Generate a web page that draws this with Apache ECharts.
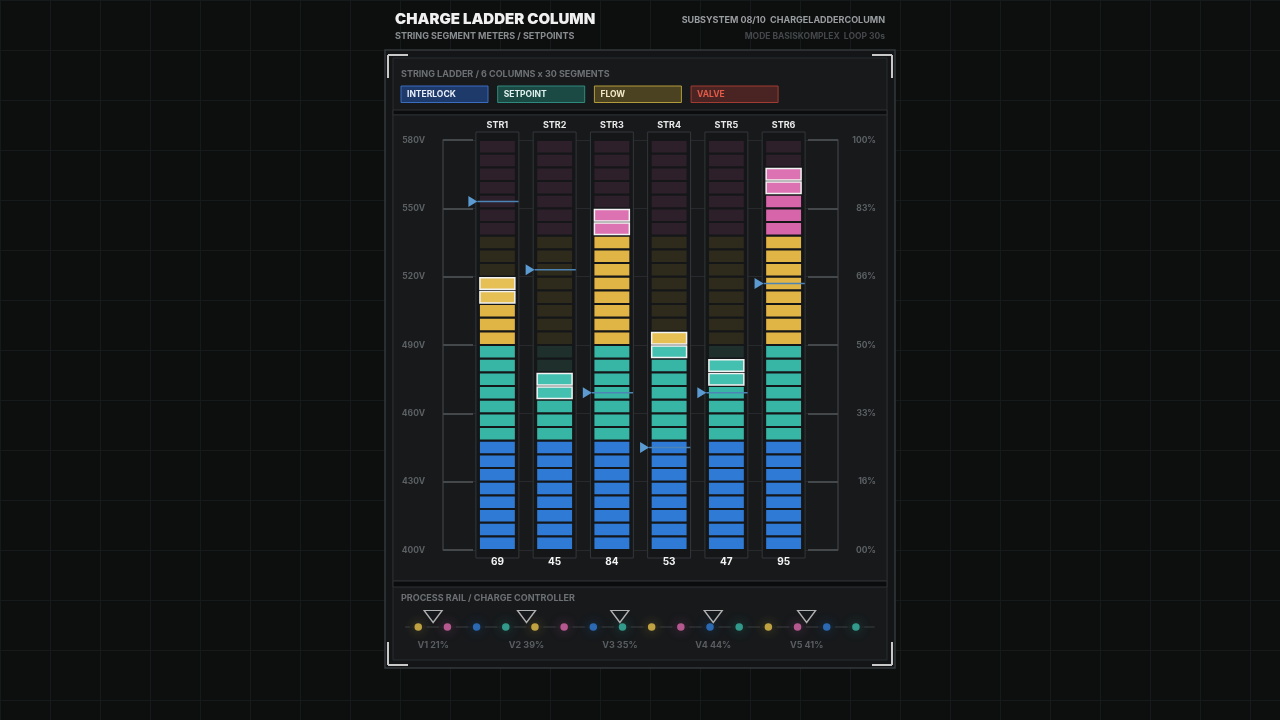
<!DOCTYPE html>
<html>
<head>
<meta charset="utf-8">
<title>Charge Ladder Column</title>
<script src="https://cdn.jsdelivr.net/npm/echarts@6/dist/echarts.min.js"></script>
<style>
    html, body { margin: 0; padding: 0; }
    body {
        background-color: #0d0f0f;
        background-image:
            linear-gradient(to right, #171a1a 1px, transparent 1px),
            linear-gradient(to bottom, #171a1a 1px, transparent 1px);
        background-size: 50px 50px;
    }
    #chart { width: 1280px; height: 720px; }
</style>
</head>
<body>
<div id="chart"></div>
<script>
// 数据
const strings = ['STR1', 'STR2', 'STR3', 'STR4', 'STR5', 'STR6']
const values = [69, 45, 84, 53, 47, 95]
const litSegments = [20, 13, 25, 16, 14, 28] // 点亮的段数
const setpoints = [553, 523, 469, 445, 469, 517] // 设定点 (V)
const voltTicks = [400, 430, 460, 490, 520, 550, 580]
const zoneNames = ['INTERLOCK', 'SETPOINT', 'FLOW', 'VALVE']
const zoneSizes = [8, 7, 8, 7] // 每个区的段数, 自下而上

// 过程轨
const railKinds = ['Y', 'P', 'B', 'T', 'Y', 'P', 'B', 'T', 'Y', 'P', 'B', 'T', 'Y', 'P', 'B', 'T']
const valveNames = ['V1', 'V2', 'V3', 'V4', 'V5']
const valvePos = [0.51, 3.71, 6.91, 10.11, 13.31]
const valvePct = [21, 39, 35, 44, 41]

const FONT = 'Inter, "Noto Sans", sans-serif'
const VMIN = voltTicks[0]
const VMAX = voltTicks[voltTicks.length - 1]
const SEGMENTS = zoneSizes.reduce((a, b) => a + b, 0)

const litColors = ['#2f7ad4', '#38b6a5', '#e0b445', '#d765aa']
const headColors = ['#3d87de', '#44c0b0', '#e6bf55', '#dd72b2']
const dimColors = ['#1b2534', '#1e2f2c', '#2e2a1c', '#2d202b']
const railColors = { Y: '#e6c04a', P: '#d966aa', B: '#2f7ad4', T: '#38b6a5' }

function zoneOf(k) {
    let acc = 0
    for (let z = 0; z < zoneSizes.length; z++) {
        acc += zoneSizes[z]
        if (k < acc) return z
    }
    return zoneSizes.length - 1
}

/**
 * 画一个梯形柱: 外框 + 30 段 + 顶部名称 + 底部数值
 */
function renderColumn(params, api) {
    const i = api.value(0)
    const lit = api.value(2)
    const [cx, yBot] = api.coord([i, VMIN])
    const yTop = api.coord([i, VMAX])[1]
    const unit = api.size([1, 0])[0]
    const segH = (yBot - yTop) / SEGMENTS
    const frameW = unit * 0.75
    const segW = unit * 0.61

    const children = [{
        type: 'rect',
        shape: { x: cx - frameW / 2, y: yTop - 8, width: frameW, height: yBot - yTop + 16 },
        style: { fill: '#141618', stroke: '#34373a', lineWidth: 1 },
    }]

    for (let k = 0; k < SEGMENTS; k++) {
        const z = zoneOf(k)
        const on = k < lit
        const head = on && k >= lit - 2
        children.push({
            type: 'rect',
            shape: { x: cx - segW / 2, y: yBot - (k + 1) * segH + 1.1, width: segW, height: segH - 2.2 },
            style: {
                fill: on ? (head ? headColors[z] : litColors[z]) : dimColors[z],
                stroke: head ? '#f2f2f2' : null,
                lineWidth: head ? 1.5 : 0,
            },
        })
    }

    children.push({
        type: 'text',
        style: {
            text: strings[params.dataIndex], x: cx, y: yTop - 15,
            fill: '#e8e8e8', font: `700 9px ${FONT}`, align: 'center', verticalAlign: 'middle',
        },
    })
    children.push({
        type: 'text',
        style: {
            text: String(api.value(1)), x: cx, y: yBot + 12,
            fill: '#f4f4f4', font: `700 10px ${FONT}`, align: 'center', verticalAlign: 'middle',
        },
    })
    return { type: 'group', children }
}

/**
 * 设定点标记: 三角 + 横线
 */
function renderSetpoint(params, api) {
    const [cx, y] = api.coord([api.value(0), api.value(1)])
    const unit = api.size([1, 0])[0]
    const tip = cx - unit * 0.35
    return {
        type: 'group',
        children: [
            {
                type: 'line',
                shape: { x1: tip, y1: y, x2: cx + unit * 0.37, y2: y },
                style: { stroke: '#4d84b6', lineWidth: 1.5 },
            },
            {
                type: 'polygon',
                shape: { points: [[tip - 9, y - 5.5], [tip, y], [tip - 9, y + 5.5]] },
                style: { fill: '#5b9bd2' },
            },
        ],
    }
}

// 面板装饰
function frameGraphics() {
    const g = []
    const line = (x1, y1, x2, y2, stroke, w) => ({
        type: 'line', silent: true, shape: { x1, y1, x2, y2 }, style: { stroke, lineWidth: w },
    })
    g.push({ type: 'rect', silent: true, shape: { x: 385, y: 50, width: 510, height: 618 }, style: { fill: '#131516', stroke: '#35383b', lineWidth: 1.5 } })
    g.push({ type: 'rect', silent: true, shape: { x: 393, y: 58, width: 494, height: 602 }, style: { fill: '#17191b', stroke: '#2b2e31', lineWidth: 1 } })
    g.push({ type: 'rect', silent: true, shape: { x: 393, y: 110, width: 494, height: 5 }, style: { fill: '#0b0c0d', stroke: '#2e3134', lineWidth: 1 } })
    g.push({ type: 'rect', silent: true, shape: { x: 393, y: 115, width: 494, height: 466 }, style: { fill: '#17191b', stroke: '#2b2e31', lineWidth: 1 } })
    g.push({ type: 'rect', silent: true, shape: { x: 393, y: 581, width: 494, height: 6 }, style: { fill: '#0b0c0d', stroke: '#2e3134', lineWidth: 1 } })

    // 四角括号
    const c = '#c9c9c9'
    g.push(line(388, 55, 408, 55, c, 2), line(388, 55, 388, 78, c, 2))
    g.push(line(892, 55, 872, 55, c, 2), line(892, 55, 892, 78, c, 2))
    g.push(line(388, 665, 408, 665, c, 2), line(388, 665, 388, 642, c, 2))
    g.push(line(892, 665, 872, 665, c, 2), line(892, 665, 892, 642, c, 2))

    const text = (t, x, y, fill, font, align) => ({
        type: 'text', silent: true,
        style: { text: t, x, y, fill, font, align: align || 'left', verticalAlign: 'middle' },
    })
    g.push(text('CHARGE LADDER COLUMN', 395, 19, '#f0f0f0', `900 15px ${FONT}`))
    g.push(text('STRING SEGMENT METERS / SETPOINTS', 395, 36, '#8a8d90', `700 9px ${FONT}`))
    g.push(text('SUBSYSTEM 08/10  CHARGELADDERCOLUMN', 885, 20, '#9a9da0', `700 9px ${FONT}`, 'right'))
    g.push(text('MODE BASISKOMPLEX  LOOP 30s', 885, 36, '#45484b', `700 8.5px ${FONT}`, 'right'))
    g.push(text(`STRING LADDER / ${strings.length} COLUMNS x ${SEGMENTS} SEGMENTS`, 401, 74, '#6d7073', `700 9px ${FONT}`))
    g.push(text('PROCESS RAIL / CHARGE CONTROLLER', 401, 598, '#6d7073', `700 9px ${FONT}`))

    // 图例
    const legFill = ['#1e3a6a', '#1b4a45', '#4a4220', '#4a2422']
    const legStroke = ['#3a6cc0', '#2f8a7e', '#b39b3c', '#a23c32']
    const legText = ['#e8eef8', '#e0f0ee', '#f2e8c8', '#e25a48']
    zoneNames.forEach((name, z) => {
        const x = 401 + z * 96.7
        g.push({ type: 'rect', silent: true, shape: { x, y: 86, width: 87, height: 16.5 }, style: { fill: legFill[z], stroke: legStroke[z], lineWidth: 1 } })
        g.push(text(name, x + 6, 94.5, legText[z], `700 8.5px ${FONT}`))
    })
    return g
}

const chart = echarts.init(document.getElementById('chart'), null, { renderer: 'canvas' })

const option = {
    backgroundColor: 'transparent',
    animation: false,
    graphic: { elements: frameGraphics() },
    grid: [
        { left: 443, top: 140, width: 395, height: 410 },
        { left: 405.7, top: 600, width: 468.3, height: 27 },
    ],
    xAxis: [
        { gridIndex: 0, type: 'value', min: -0.95, max: 5.95, show: false },
        {
            gridIndex: 1, type: 'value', min: -0.43, max: 15.62,
            axisLine: { show: true, onZero: false, lineStyle: { color: '#2f3235', width: 1.5 } },
            axisTick: { show: false }, axisLabel: { show: false }, splitLine: { show: false },
        },
    ],
    yAxis: [
        {
            gridIndex: 0, type: 'value', min: VMIN, max: VMAX, interval: 30,
            axisLine: { show: true, onZero: false, lineStyle: { color: '#383b3e', width: 1.5 } },
            axisTick: { show: true, inside: true, length: 30, lineStyle: { color: '#45484b', width: 2 } },
            axisLabel: { formatter: '{value}V', color: '#5c6063', fontFamily: FONT, fontWeight: 700, fontSize: 8.5, margin: 18 },
            splitLine: { show: true, lineStyle: { color: '#27292c', width: 1 } },
        },
        {
            gridIndex: 0, type: 'value', min: 0, max: 100, interval: 100 / 6, position: 'right',
            axisLine: { show: true, onZero: false, lineStyle: { color: '#383b3e', width: 1.5 } },
            axisTick: { show: true, inside: true, length: 30, lineStyle: { color: '#45484b', width: 2 } },
            axisLabel: {
                formatter: (v) => String(Math.floor(v + 1e-6)).padStart(2, '0') + '%',
                color: '#5c6063', fontFamily: FONT, fontWeight: 700, fontSize: 8.5, margin: 38, align: 'right',
            },
            splitLine: { show: false },
        },
        { gridIndex: 1, type: 'value', min: 0, max: 1, show: false },
    ],
    series: [
        {
            type: 'custom',
            xAxisIndex: 0, yAxisIndex: 0,
            renderItem: renderColumn,
            data: strings.map((s, i) => [i, values[i], litSegments[i]]),
            z: 3,
        },
        {
            type: 'custom',
            xAxisIndex: 0, yAxisIndex: 0,
            renderItem: renderSetpoint,
            data: setpoints.map((v, i) => [i, v]),
            z: 5,
        },
        {
            // 轨道上的圆点底座, 切断轨道线
            type: 'scatter',
            xAxisIndex: 1, yAxisIndex: 2,
            symbolSize: 17,
            silent: true,
            itemStyle: { color: '#17191b' },
            data: railKinds.map((k, i) => [i, 0]),
            z: 3,
        },
        {
            type: 'scatter',
            xAxisIndex: 1, yAxisIndex: 2,
            symbolSize: 7.5,
            data: railKinds.map((k, i) => ({
                value: [i, 0],
                itemStyle: {
                    color: railColors[k],
                    shadowBlur: 12, shadowColor: railColors[k] + '99',
                },
            })),
            z: 4,
        },
        {
            type: 'scatter',
            xAxisIndex: 1, yAxisIndex: 2,
            symbol: 'triangle', symbolRotate: 180, symbolSize: [18, 12], symbolOffset: [0, -10.5],
            itemStyle: { color: '#17191b', borderColor: '#d6d6d6', borderWidth: 1.3 },
            data: valvePos.map((p) => [p, 0]),
            z: 5,
        },
        {
            type: 'scatter',
            xAxisIndex: 1, yAxisIndex: 2,
            symbolSize: 1,
            itemStyle: { color: 'transparent' },
            label: {
                show: true, position: 'inside', offset: [0, 18],
                formatter: (p) => `${valveNames[p.dataIndex]} ${valvePct[p.dataIndex]}%`,
                color: '#6a6e72', fontFamily: FONT, fontWeight: 700, fontSize: 9,
            },
            data: valvePos.map((p) => [p, 0]),
            z: 5,
        },
    ],
}

chart.setOption(option)
</script>
</body>
</html>
